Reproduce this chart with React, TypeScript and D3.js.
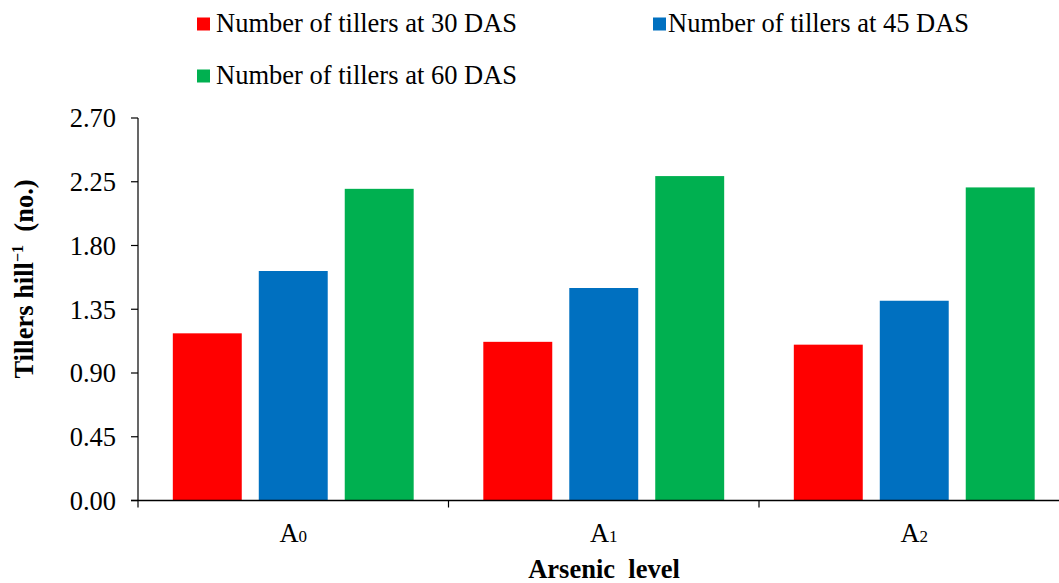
import React from "react";
import * as d3 from "d3";

const categories = ["A0", "A1", "A2"];
const categorySubs = ["0", "1", "2"];
const seriesNames = [
  "Number of tillers at 30 DAS",
  "Number of tillers at 45 DAS",
  "Number of tillers at 60 DAS",
];
const tillers30 = [1.18, 1.12, 1.1];
const tillers45 = [1.62, 1.5, 1.41];
const tillers60 = [2.2, 2.29, 2.21];
const yTicks = [0, 0.45, 0.9, 1.35, 1.8, 2.25, 2.7];
const colors = ["#FF0000", "#0070C0", "#00B050"];

const W = 1059;
const H = 583;
const FONT = "'Liberation Serif', 'Times New Roman', Times, serif";
const FS = 26.5;

export default function App() {
  const seriesValues = [tillers30, tillers45, tillers60];

  const x0 = d3.scaleBand<string>().domain(categories).range([138, 1069.5]).paddingInner(0).paddingOuter(0);
  const x1 = d3
    .scaleBand<string>()
    .domain(seriesNames)
    .range([0, x0.bandwidth()])
    .paddingInner(0.198)
    .paddingOuter(0.405);
  const y = d3.scaleLinear().domain([0, 2.7]).range([500.5, 118]);

  const boundaries = [...categories.map((c) => x0(c) as number), x0.range()[1]];

  const legendItems = [
    { x: 197, tx: 216, y: 17.5 },
    { x: 653, tx: 668, y: 17.5 },
    { x: 197, tx: 216, y: 69.5 },
  ];

  return (
    <div style={{ position: "fixed", left: 0, top: 0 }}>
      <svg width={W} height={H} style={{ display: "block", background: "#fff", fontFamily: FONT }}>
        {/* Legend */}
        {seriesNames.map((name, i) => (
          <g key={name}>
            <rect x={legendItems[i].x} y={legendItems[i].y} width={13} height={13} fill={colors[i]} />
            <text x={legendItems[i].tx} y={legendItems[i].y + 14.5} fontSize={FS} fill="#000">
              {name}
            </text>
          </g>
        ))}

        {/* Bars */}
        {seriesNames.map((name, si) =>
          categories.map((c, ci) => {
            const v = seriesValues[si][ci];
            const bx = (x0(c) as number) + (x1(name) as number);
            return (
              <rect
                key={name + c}
                x={bx}
                y={y(v)}
                width={x1.bandwidth()}
                height={y(0) - y(v)}
                fill={colors[si]}
              />
            );
          })
        )}

        {/* Y axis */}
        <line x1={138} x2={138} y1={y(2.7)} y2={y(0)} stroke="#000" strokeWidth={1.2} />
        {yTicks.map((t) => (
          <g key={t}>
            <line x1={131} x2={138} y1={y(t)} y2={y(t)} stroke="#000" strokeWidth={1.2} />
            <text x={116} y={y(t)} dy="0.35em" textAnchor="end" fontSize={FS} fill="#000">
              {t.toFixed(2)}
            </text>
          </g>
        ))}

        {/* X axis */}
        <line x1={131} x2={x0.range()[1]} y1={y(0)} y2={y(0)} stroke="#000" strokeWidth={1.5} />
        {boundaries.map((bx, i) => (
          <line key={i} x1={bx} x2={bx} y1={y(0)} y2={y(0) + 7} stroke="#000" strokeWidth={1.2} />
        ))}
        {categories.map((c, i) => (
          <text
            key={c}
            x={(x0(c) as number) + x0.bandwidth() / 2}
            y={541.5}
            textAnchor="middle"
            fontSize={FS}
            fill="#000"
          >
            A<tspan fontSize={17}>{categorySubs[i]}</tspan>
          </text>
        ))}

        {/* Axis titles */}
        <text x={604} y={578} textAnchor="middle" fontSize={FS} fontWeight="bold" fill="#000" xmlSpace="preserve">
          Arsenic  level
        </text>
        <text
          transform="translate(33,279) rotate(-90)"
          textAnchor="middle"
          fontSize={FS}
          fontWeight="bold"
          fill="#000"
          xmlSpace="preserve"
        >
          Tillers hill
          <tspan fontSize={16} dy={-10}>
            −1
          </tspan>
          <tspan dy={10}>{"  (no.)"}</tspan>
        </text>
      </svg>
    </div>
  );
}
